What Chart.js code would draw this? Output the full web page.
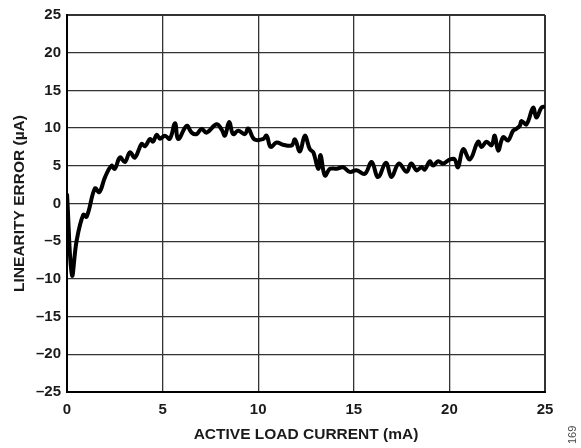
<!DOCTYPE html>
<html>
<head>
<meta charset="utf-8">
<script src="https://cdn.jsdelivr.net/npm/chart.js@4"></script>
<style>
  body { margin: 0; background: #fff; }
  #wrap { position: relative; width: 581px; height: 448px; }
  #fig { position: absolute; left: 566px; top: 444px; font: 11px Arial, "Liberation Sans", sans-serif; color: #444; transform: rotate(-90deg); transform-origin: left top; }
</style>
</head>
<body>
<div id="wrap">
  <canvas id="chart" width="581" height="448"></canvas>
  <div id="fig">169</div>
</div>
<script>
// active load current (mA)
const current = [0, 0.26, 0.5, 0.85, 1.03, 1.46, 1.69, 1.99, 2.33, 2.5, 2.77, 3.03, 3.29, 3.55, 3.9, 4.08, 4.34, 4.5, 4.69, 4.86,
  5.12, 5.38, 5.65, 5.82, 6.26, 6.52, 6.78, 7.04, 7.3, 7.82, 8.09, 8.26, 8.48, 8.69, 8.95, 9.3, 9.48, 9.8, 10.26, 10.44,
  10.65, 10.96, 11.3, 11.75, 11.92, 12.18, 12.44, 12.7, 12.88, 13.14, 13.26, 13.49, 13.75, 14.1, 14.44, 14.79, 15.14, 15.58, 15.93, 16.27,
  16.68, 16.97, 17.35, 17.76, 18.0, 18.28, 18.54, 18.71, 18.97, 19.15, 19.41, 19.67, 19.93, 20.11, 20.28, 20.45, 20.72, 21.07, 21.5, 21.68,
  21.94, 22.2, 22.37, 22.55, 22.81, 23.07, 23.33, 23.5, 23.68, 23.77, 24.03, 24.38, 24.55, 24.81, 25];
// linearity error (uA)
const linErr = [1.3, -9.5, -5.0, -1.5, -1.75, 2.0, 1.5, 3.5, 5.0, 4.6, 6.1, 5.5, 6.8, 6.1, 7.9, 7.6, 8.55, 8.2, 9.1, 8.6,
  9.0, 8.6, 10.65, 8.55, 10.3, 9.4, 9.2, 9.9, 9.4, 10.5, 9.8, 9.0, 10.8, 9.2, 9.65, 9.2, 9.95, 8.5, 8.55, 9.0,
  7.5, 8.1, 7.8, 7.7, 8.5, 6.9, 9.0, 7.2, 6.8, 4.6, 6.4, 3.7, 4.6, 4.6, 4.8, 4.2, 4.4, 3.95, 5.5, 3.5,
  5.4, 3.5, 5.3, 4.2, 5.3, 4.4, 4.8, 4.5, 5.6, 5.05, 5.6, 5.3, 5.7, 5.9, 5.85, 4.8, 7.2, 5.85, 8.2, 7.5,
  8.2, 7.7, 9.0, 7.0, 8.8, 8.35, 9.65, 9.9, 10.3, 10.95, 10.5, 12.7, 11.4, 12.7, 12.85];

const xTitle = 'ACTIVE LOAD CURRENT (mA)';
const yTitle = 'LINEARITY ERROR (µA)';

let points = current.map((x, i) => ({x: x, y: linErr[i]}));

const tickFont = {family: 'Arial, "Liberation Sans", sans-serif', size: 15, weight: 'bold'};
const titleFont = {family: 'Arial, "Liberation Sans", sans-serif', size: 15.5, weight: 'bold'};

function edgeWidth(c, lo, hi) {
  let v = c.tick ? c.tick.value : null;
  return (v === lo || v === hi) ? 2 : 1.3;
}

const myChart = new Chart(document.getElementById('chart'), {
  type: 'line',
  data: {
    datasets: [{
      data: points,
      borderColor: '#000',
      borderWidth: 4,
      pointRadius: 0,
      tension: 0.4,
      fill: false
    }]
  },
  options: {
    responsive: false,
    animation: false,
    layout: {padding: {top: 11, right: 36, left: 0, bottom: 0}},
    plugins: {legend: {display: false}, tooltip: {enabled: false}},
    scales: {
      x: {
        type: 'linear',
        min: 0, max: 25,
        afterFit: s => { s.height = 56; },
        ticks: {stepSize: 5, padding: 9, color: '#1a1a1a', font: tickFont},
        grid: {color: '#333', lineWidth: c => edgeWidth(c, 0, 25), drawTicks: false},
        border: {color: '#000', width: 2},
        title: {display: true, text: xTitle, color: '#1a1a1a', font: titleFont, padding: {top: 4, bottom: 4}}
      },
      y: {
        min: -25, max: 25,
        afterFit: s => { s.width = 67; },
        ticks: {
          stepSize: 5, padding: 6, color: '#1a1a1a', font: tickFont,
          callback: v => v < 0 ? '\u2013' + Math.abs(v) : '' + v
        },
        grid: {color: '#333', lineWidth: c => edgeWidth(c, -25, 25), drawTicks: false},
        border: {color: '#000', width: 2},
        title: {display: true, text: yTitle, color: '#1a1a1a', font: titleFont, padding: {top: 10, bottom: 0}}
      }
    }
  }
});
</script>
</body>
</html>
